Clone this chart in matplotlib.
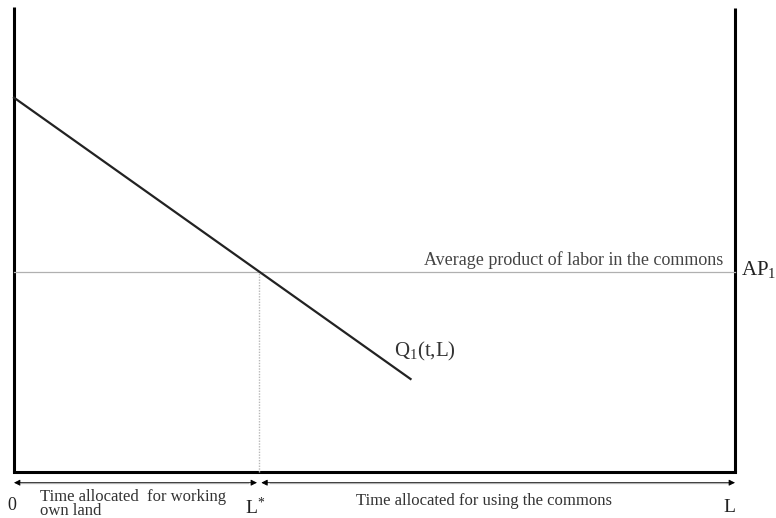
import matplotlib
matplotlib.use("Agg")
import matplotlib.pyplot as plt

# data (arbitrary units)
L_total = 10.0
y_top = 10.0
q_x = [0.0, 5.5]
q_y = [8.05, 2.0]
ap_level = 4.3
L_star = 3.4

plt.rcParams['font.family'] = ['Liberation Serif', 'DejaVu Serif']
plt.rcParams['mathtext.fontset'] = 'custom'
plt.rcParams['mathtext.rm'] = 'Liberation Serif'
plt.rcParams['mathtext.it'] = 'Liberation Serif'
plt.rcParams['mathtext.default'] = 'rm'

fig = plt.figure(figsize=(7.76, 5.18), dpi=100)
ax = fig.add_axes([14/776, 46/518, 721/776, 465/518])
ax.set_xlim(0, L_total)
ax.set_ylim(0, y_top)
ax.axis('off')

# frame: left, bottom, right
ax.plot([0, 0], [0, y_top], color='black', lw=2.2, solid_capstyle='butt', clip_on=False)
ax.plot([0, L_total], [0, 0], color='black', lw=2.2, solid_capstyle='projecting', clip_on=False)
ax.plot([L_total, L_total], [0, y_top*0.998], color='black', lw=2.2, solid_capstyle='butt', clip_on=False)

# AP line
ax.plot([0, L_total], [ap_level, ap_level], color='#b0b0b0', lw=0.9, clip_on=False)
# Q line
ax.plot(q_x, q_y, color='#222222', lw=1.6, clip_on=False)
# dotted vertical at L*
ax.plot([L_star, L_star], [0, ap_level], color='#b8b8b8', lw=1.0, ls=(0, (1, 1)), clip_on=False)

# arrows below axis
ya = -0.23
ax.annotate('', xy=(0, ya), xytext=(L_star - 0.03, ya),
            arrowprops=dict(arrowstyle='<|-|>', color='black', lw=0.6, mutation_scale=9,
                            shrinkA=0, shrinkB=0), annotation_clip=False)
ax.annotate('', xy=(L_total, ya), xytext=(L_star + 0.03, ya),
            arrowprops=dict(arrowstyle='<|-|>', color='black', lw=0.6, mutation_scale=9,
                            shrinkA=0, shrinkB=0), annotation_clip=False)
ax.plot([0.1, L_star - 0.15], [ya, ya], color='#c8c8c8', lw=1.0, clip_on=False)
ax.plot([L_star + 0.15, L_total - 0.1], [ya, ya], color='#c8c8c8', lw=1.0, clip_on=False)

# labels
ax.text(-0.03, -0.72, '0', fontsize=13, ha='center', va='center', color='#222222')
ax.text(L_star - 0.05, -0.76, r'L$^{*}$', fontsize=14, ha='center', va='center', color='#222222')
ax.text(L_total - 0.08, -0.76, 'L', fontsize=14, ha='center', va='center', color='#222222')
ax.text(0.36, -0.37, 'Time allocated  for working\nown land', fontsize=12, ha='left', va='top',
        linespacing=0.85, color='#333333')
ax.text(4.75, -0.62, 'Time allocated for using the commons', fontsize=12, ha='left', va='center',
        color='#333333')
ax.text(5.68, ap_level + 0.25, 'Average product of labor in the commons', fontsize=13,
        ha='left', va='center', color='#444444')
ax.text(L_total + 0.08, ap_level + 0.05, r'AP$_1$', fontsize=15, ha='left', va='center',
        color='#222222')
ax.text(5.27, 2.6, r'Q$_1$(t,L)', fontsize=15, ha='left', va='center', color='#333333')

fig.savefig('out.png', dpi=100)
